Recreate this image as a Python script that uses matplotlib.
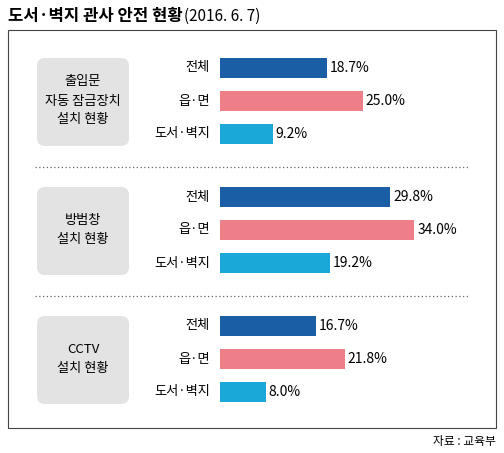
import matplotlib.pyplot as plt
from matplotlib.patches import FancyBboxPatch, Rectangle

plt.rcParams['font.family'] = ['Noto Sans CJK KR', 'DejaVu Sans']

groups = ['출입문\n자동 잠금장치\n설치 현황', '방범창\n설치 현황', 'CCTV\n설치 현황']
rows = ['전체', '읍·면', '도서·벽지']
values = [[18.7, 25.0, 9.2], [29.8, 34.0, 19.2], [16.7, 21.8, 8.0]]
colors = ['#1a5ea6', '#ee7f89', '#19a8d8']

W, H = 504, 453
fig = plt.figure(figsize=(W / 100, H / 100), dpi=100)
bg = fig.add_axes([0, 0, 1, 1])
bg.set_xlim(0, W)
bg.set_ylim(H, 0)
bg.axis('off')

bg.text(8, 16, '도서·벽지 관사 안전 현황', fontsize=12, fontweight='bold', va='center', ha='left')
bg.text(184, 16, '(2016. 6. 7)', fontsize=11, va='center', ha='left')
bg.add_patch(Rectangle((8, 30), 488, 398, fill=False, lw=0.8, ec='#444444'))
bg.text(496, 442, '자료 : 교육부', fontsize=8.5, ha='right', va='center')

for ysep in (167, 296):
    bg.plot([35, 470], [ysep, ysep], ls=(0, (1, 2)), color='#666666', lw=0.9)

# bar axes: x in data units, y in pixels
px_per_unit = 5.72
ax = fig.add_axes([220 / W, 0, 40 * px_per_unit / W, 1])
ax.set_xlim(0, 40)
ax.set_ylim(H, 0)
ax.axis('off')

group_tops = [68, 197, 326]
for g, (label, vals) in enumerate(zip(groups, values)):
    top = group_tops[g]
    ys = [top, top + 33, top + 66]
    bg.add_patch(FancyBboxPatch((37, top - 10), 92, 88,
                                boxstyle='round,pad=0,rounding_size=8',
                                fc='#e3e3e3', ec='none'))
    bg.text(83, top + 33, label, ha='center', va='center', fontsize=9.5,
            linespacing=1.6)
    ax.barh(ys, vals, height=20, color=colors)
    for y, v, r in zip(ys, vals, rows):
        bg.text(210, y, r, ha='right', va='center', fontsize=9.5)
        ax.text(v + 0.5, y, f'{v:.1f}%', ha='left', va='center', fontsize=10,
                fontweight='medium')

fig.savefig('out.png', dpi=100)
